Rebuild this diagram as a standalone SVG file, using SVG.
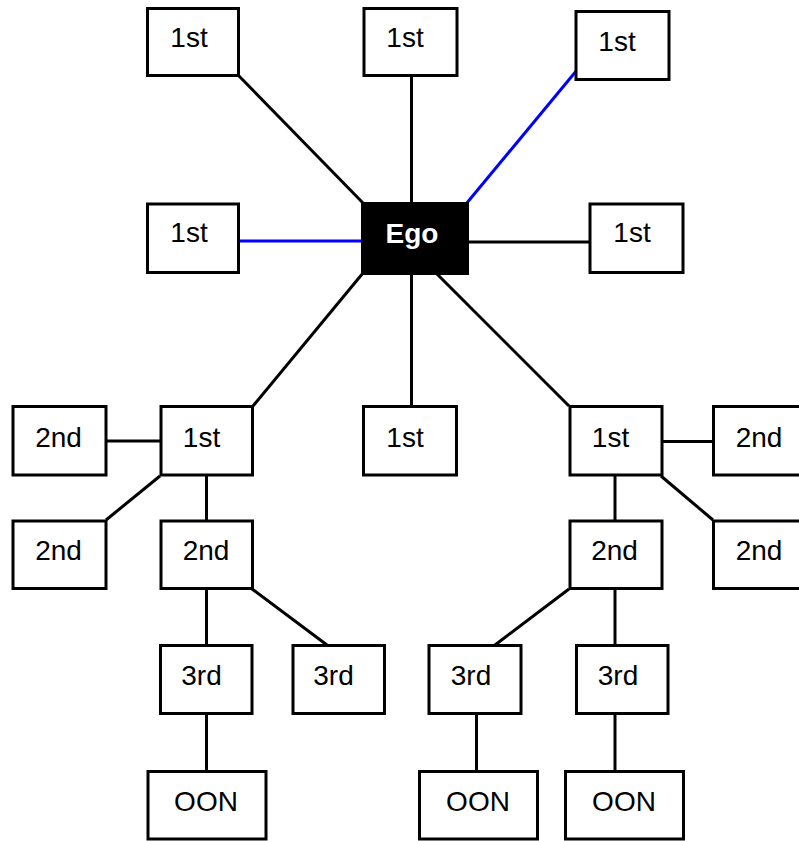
<svg xmlns="http://www.w3.org/2000/svg" width="799" height="841" viewBox="0 0 799 841">
<style>
.box{fill:#fff;stroke:#000;stroke-width:3}
.ego{fill:#000;stroke:none}
.t{font-family:"Liberation Sans",Arial,sans-serif;font-size:28px;fill:#000;text-anchor:middle}
.et{font-family:"Liberation Sans",Arial,sans-serif;font-size:28px;font-weight:bold;fill:#fff;text-anchor:middle}
.c{stroke:#000;stroke-width:3;fill:none}
.b{stroke:#0000ff;stroke-width:3;fill:none}
</style>
<rect width="799" height="841" fill="#fff"/>
<g id="connectors">
<line class="c" x1="239" y1="76" x2="363" y2="203"/>
<line class="c" x1="411.5" y1="77" x2="411.5" y2="203"/>
<line class="b" x1="577" y1="70" x2="466" y2="204"/>
<line class="b" x1="240" y1="241" x2="362" y2="241"/>
<line class="c" x1="468" y1="242" x2="589" y2="242"/>
<line class="c" x1="363" y1="273" x2="253" y2="406"/>
<line class="c" x1="411.5" y1="274" x2="411.5" y2="406"/>
<line class="c" x1="437" y1="274" x2="569" y2="406"/>
<line class="c" x1="107" y1="441" x2="160" y2="441"/>
<line class="c" x1="160" y1="476" x2="106" y2="520"/>
<line class="c" x1="206.5" y1="476" x2="206.5" y2="521"/>
<line class="c" x1="659" y1="441.5" x2="713" y2="441.5"/>
<line class="c" x1="661" y1="476" x2="713" y2="520"/>
<line class="c" x1="615" y1="476" x2="615" y2="521"/>
<line class="c" x1="206.5" y1="589" x2="206.5" y2="646"/>
<line class="c" x1="252" y1="589" x2="327" y2="645"/>
<line class="c" x1="569" y1="589" x2="495" y2="645"/>
<line class="c" x1="615" y1="589" x2="615" y2="646"/>
<line class="c" x1="206.5" y1="714" x2="206.5" y2="772"/>
<line class="c" x1="476.5" y1="714" x2="476.5" y2="772"/>
<line class="c" x1="615" y1="714" x2="615" y2="772"/>
</g>
<g id="n-t1"><rect class="box" x="147.5" y="8.5" width="91" height="67"/><text class="t" x="189" y="47">1st</text></g>
<g id="n-t2"><rect class="box" x="364" y="8.5" width="93" height="67"/><text class="t" x="405" y="47">1st</text></g>
<g id="n-t3"><rect class="box" x="576" y="11.5" width="93" height="68"/><text class="t" x="617" y="51">1st</text></g>
<g id="n-l1"><rect class="box" x="147.5" y="204" width="91" height="68.5"/><text class="t" x="189" y="242">1st</text></g>
<g id="n-ego"><rect class="ego" x="361" y="202" width="108" height="73"/><text class="et" x="412" y="243">Ego</text></g>
<g id="n-r1"><rect class="box" x="590" y="204" width="93" height="68.5"/><text class="t" x="632" y="242">1st</text></g>
<g id="n-m1"><rect class="box" x="161" y="406.5" width="91.5" height="68.5"/><text class="t" x="201.5" y="447">1st</text></g>
<g id="n-m2"><rect class="box" x="363.5" y="406.5" width="93" height="68.5"/><text class="t" x="405" y="447">1st</text></g>
<g id="n-m3"><rect class="box" x="570" y="406.5" width="92" height="68.5"/><text class="t" x="610.5" y="447">1st</text></g>
<g id="n-2lt"><rect class="box" x="13" y="406.5" width="93" height="68.5"/><text class="t" x="58.5" y="447">2nd</text></g>
<g id="n-2lb"><rect class="box" x="13" y="521" width="93" height="67.5"/><text class="t" x="58.5" y="560">2nd</text></g>
<g id="n-2lc"><rect class="box" x="161" y="521" width="91.5" height="67.5"/><text class="t" x="206" y="560">2nd</text></g>
<g id="n-2rc"><rect class="box" x="570" y="521" width="92" height="67.5"/><text class="t" x="614.5" y="560">2nd</text></g>
<g id="n-2rt"><rect class="box" x="713.5" y="406.5" width="93" height="68.5"/><text class="t" x="759" y="447">2nd</text></g>
<g id="n-2rb"><rect class="box" x="713.5" y="521" width="93" height="67.5"/><text class="t" x="759" y="560">2nd</text></g>
<g id="n-3a"><rect class="box" x="160.5" y="645.5" width="91.5" height="68"/><text class="t" x="201.5" y="685">3rd</text></g>
<g id="n-3b"><rect class="box" x="293" y="645.5" width="91.5" height="68"/><text class="t" x="333.5" y="685">3rd</text></g>
<g id="n-3c"><rect class="box" x="429" y="645.5" width="92" height="68"/><text class="t" x="471" y="685">3rd</text></g>
<g id="n-3d"><rect class="box" x="576.5" y="645.5" width="91.5" height="68"/><text class="t" x="618" y="685">3rd</text></g>
<g id="n-oa"><rect class="box" x="148" y="771.5" width="118" height="67.5"/><text class="t" x="206" y="811">OON</text></g>
<g id="n-oc"><rect class="box" x="419.5" y="771.5" width="118" height="67.5"/><text class="t" x="478" y="811">OON</text></g>
<g id="n-od"><rect class="box" x="565.5" y="771.5" width="118" height="67.5"/><text class="t" x="624" y="811">OON</text></g>
</svg>
